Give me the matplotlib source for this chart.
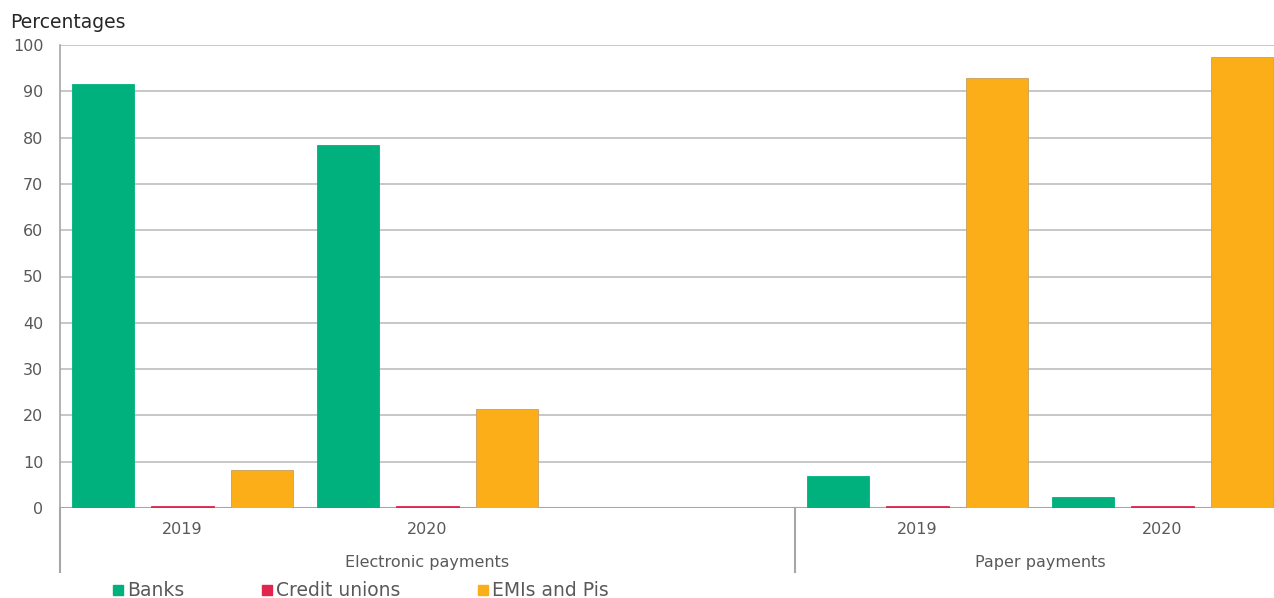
import matplotlib.pyplot as plt
from matplotlib.patches import Rectangle
from matplotlib.lines import Line2D
import matplotlib.transforms as mtransforms

years = ['2019', '2020', '', '2019', '2020']
groups = ['Electronic payments', 'Paper payments']
group_spans = [(0, 3), (3, 5)]   # category index ranges
series = ['Banks', 'Credit unions', 'EMIs and Pis']
banks = [91.6, 78.4, 0, 7.0, 2.3]
credit_unions = [0.4, 0.4, 0, 0.4, 0.4]
emis = [8.2, 21.4, 0, 92.8, 97.5]
colors = ['#00B17E', '#E1254E', '#FBAE17']

plt.rcParams['font.family'] = 'DejaVu Sans'
fig = plt.figure(figsize=(12.74, 5.98), dpi=100)
W, H = 1274, 598
# plot area runs a bit past the right edge (cropped like the original)
ax = fig.add_axes([60 / W, (H - 508) / H, 1225 / W, (508 - 45) / H])

x = list(range(len(years)))
width = 0.255
step = 0.325
data = [banks, credit_unions, emis]
for i, (vals, c) in enumerate(zip(data, colors)):
    xs = [xi + (i - 1) * step for xi in x]
    hs = [v if years[k] else 0 for k, v in enumerate(vals)]
    edge = '#C8A060' if i == 2 else c
    ax.bar(xs, hs, width=width, color=c, edgecolor=edge, linewidth=0.6, zorder=3)

ax.set_xlim(-0.5, 4.5)
ax.set_ylim(0, 100)
ax.set_yticks(range(0, 101, 10))
ax.yaxis.grid(True, color='#BDBDBD', linewidth=1.2, zorder=0)
ax.set_xticks([])
for s in ['top', 'right', 'bottom']:
    ax.spines[s].set_visible(False)
ax.spines['left'].set_color('#A6A6A6')
ax.spines['left'].set_linewidth(1.2)
ax.axhline(0, color='#A6A6A6', linewidth=1.5, zorder=2.5)
ax.tick_params(axis='y', length=0, pad=12, labelsize=11.5, labelcolor='#595959')

trans = mtransforms.blended_transform_factory(ax.transData, ax.transAxes)
ph = 463.0
for xi, yr in zip(x, years):
    if yr:
        ax.text(xi, -22 / ph, yr, transform=trans, ha='center', va='center',
                fontsize=11.5, color='#595959')
for g, (a, b) in zip(groups, group_spans):
    ax.text((a + b - 1) / 2, -54 / ph, g, transform=trans, ha='center', va='center',
            fontsize=11.5, color='#595959')
# extended left axis and group divider
ax.add_line(Line2D([-0.5, -0.5], [0, -64 / ph], transform=trans, color='#A6A6A6',
                   linewidth=1.5, clip_on=False))
ax.add_line(Line2D([2.5, 2.5], [0, -64 / ph], transform=trans, color='#A6A6A6',
                   linewidth=1.5, clip_on=False))

fig.text(10 / W, 1 - 22 / H, 'Percentages', ha='left', va='center', fontsize=13.5,
         color='#262626')

# legend
leg_x = [113, 262, 478]
for lx, name, c in zip(leg_x, series, colors):
    fig.patches.append(Rectangle((lx / W, (H - 595) / H), 10 / W, 10 / H,
                                 transform=fig.transFigure, color=c))
    fig.text((lx + 14) / W, 1 - 590 / H, name, ha='left', va='center',
             fontsize=13.5, color='#595959')

fig.savefig('out.png', dpi=100)
